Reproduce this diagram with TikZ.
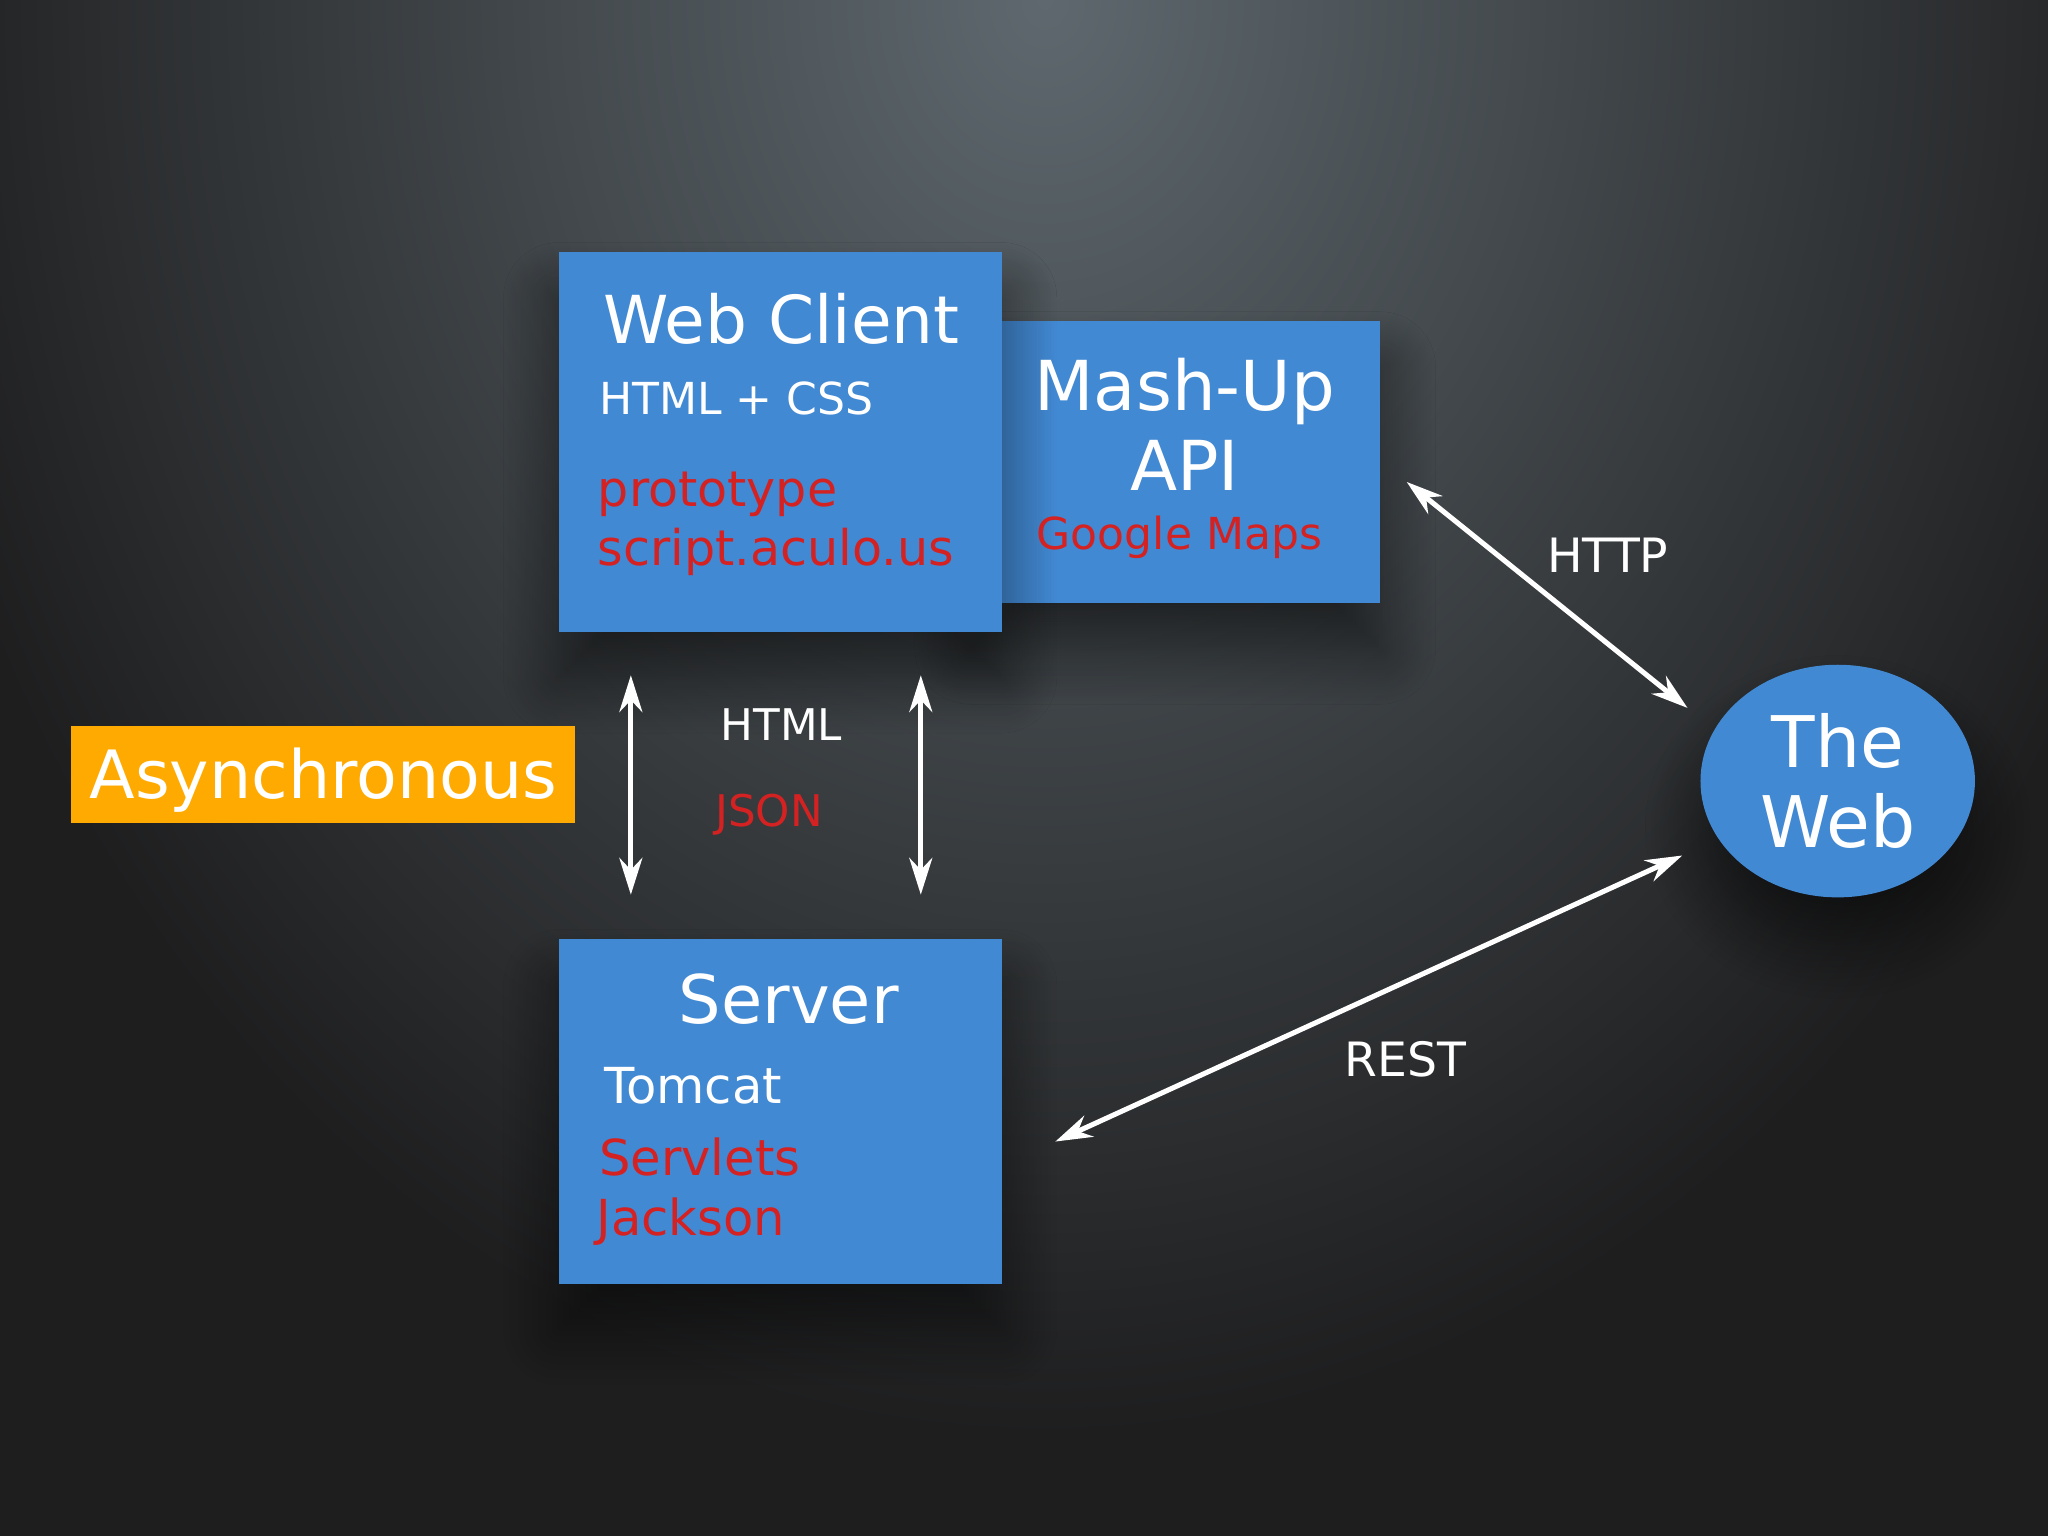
\documentclass[tikz,border=0pt]{standalone}
\usepackage{fontspec}
\setmainfont{DejaVu Sans}
\usetikzlibrary{arrows.meta,shadows.blur,shapes.geometric}
\definecolor{boxblue}{HTML}{4289D3}
\definecolor{txtred}{HTML}{D42222}
\definecolor{async}{HTML}{FFAA00}
\definecolor{bgtop}{HTML}{5E686E}
\definecolor{bgdark}{HTML}{1E1E1F}
\begin{document}
\begin{tikzpicture}[x=0.01cm,y=-0.01cm,
  box/.style={fill=boxblue, draw=none, inner sep=0pt, blur shadow={shadow xshift=0pt, shadow yshift=-10pt, shadow blur radius=12pt, shadow blur steps=20, shadow opacity=55}},
  lbl/.style={text=white, inner sep=0pt, anchor=base west},
  dbl/.style={white, line width=1.1pt, {Stealth[length=8pt,width=5pt]}-{Stealth[length=8pt,width=5pt]}}]
  \useasboundingbox (0,0) rectangle (1568,1176);
  \fill[bgdark] (0,0) rectangle (1568,1176);
  \shade[inner color=bgtop, outer color=bgdark] (-100,-1100) rectangle (1700,1100);
  % boxes
  \node[box, minimum width=3.14cm, minimum height=2.16cm, anchor=north west] (mu) at (742,245) {};
  \node[box, minimum width=3.39cm, minimum height=2.91cm, anchor=north west] (wc) at (427,192) {};
  \node[box, minimum width=3.39cm, minimum height=2.64cm, anchor=north west] (sv) at (427,718) {};
  \node[fill=async, minimum width=3.85cm, minimum height=0.74cm, anchor=north west, inner sep=0pt] (as) at (54,555) {};
  \node[box, ellipse, minimum width=2.1cm, minimum height=1.78cm] (web) at (1407,598) {};
  % texts
  \node[lbl, font=\fontsize{14.4}{18}\selectfont] (t1) at (461,263) {Web Client};
  \node[lbl, font=\fontsize{9.6}{12}\selectfont] (t2) at (458,317) {HTML + CSS};
  \node[lbl, text=txtred, font=\fontsize{10.7}{13}\selectfont] (t3) at (457,388) {prototype};
  \node[lbl, text=txtred, font=\fontsize{10.7}{13}\selectfont] (t4) at (457,433) {script.aculo.us};
  \node[text=white, inner sep=0pt, align=center, font=\fontsize{15}{17.5}\selectfont] (t5) at (907,325) {Mash-Up\\API};
  \node[lbl, text=txtred, font=\fontsize{9.6}{12}\selectfont] (t6) at (793,421) {Google Maps};
  \node[lbl, font=\fontsize{14.6}{18}\selectfont] (t7) at (519,784) {Server};
  \node[lbl, font=\fontsize{10.8}{13}\selectfont] (t8) at (462,845) {Tomcat};
  \node[lbl, text=txtred, font=\fontsize{10.8}{13}\selectfont] (t9) at (458,900) {Servlets};
  \node[lbl, text=txtred, font=\fontsize{10.8}{13}\selectfont] (t10) at (456,946) {Jackson};
  \node[text=white, inner sep=0pt, align=center, font=\fontsize{15.5}{17.5}\selectfont] at (web) {The\\Web};
  \node[lbl, font=\fontsize{14.5}{16}\selectfont] (t11) at (68,611) {Asynchronous};
  \node[lbl, font=\fontsize{9.5}{11}\selectfont] (h1) at (551,567) {HTML};
  \node[lbl, text=txtred, font=\fontsize{9.5}{11}\selectfont] (h2) at (547,633) {JSON};
  \node[lbl, font=\fontsize{10.3}{12}\selectfont] (h3) at (1184,438) {HTTP};
  \node[lbl, font=\fontsize{10.3}{12}\selectfont] (h4) at (1029,824) {REST};
  % connectors
  \coordinate (a1) at (483,517); \coordinate (a2) at (483,685);
  \coordinate (b1) at (705,517); \coordinate (b2) at (705,685);
  \coordinate (c1) at (1077,369); \coordinate (c2) at (1292,542);
  \coordinate (d1) at (808,874); \coordinate (d2) at (1288,655);
  \draw[dbl] (a1) -- (a2);
  \draw[dbl] (b1) -- (b2);
  \draw[dbl] (c1) -- (c2);
  \draw[dbl] (d1) -- (d2);
\end{tikzpicture}
\end{document}
